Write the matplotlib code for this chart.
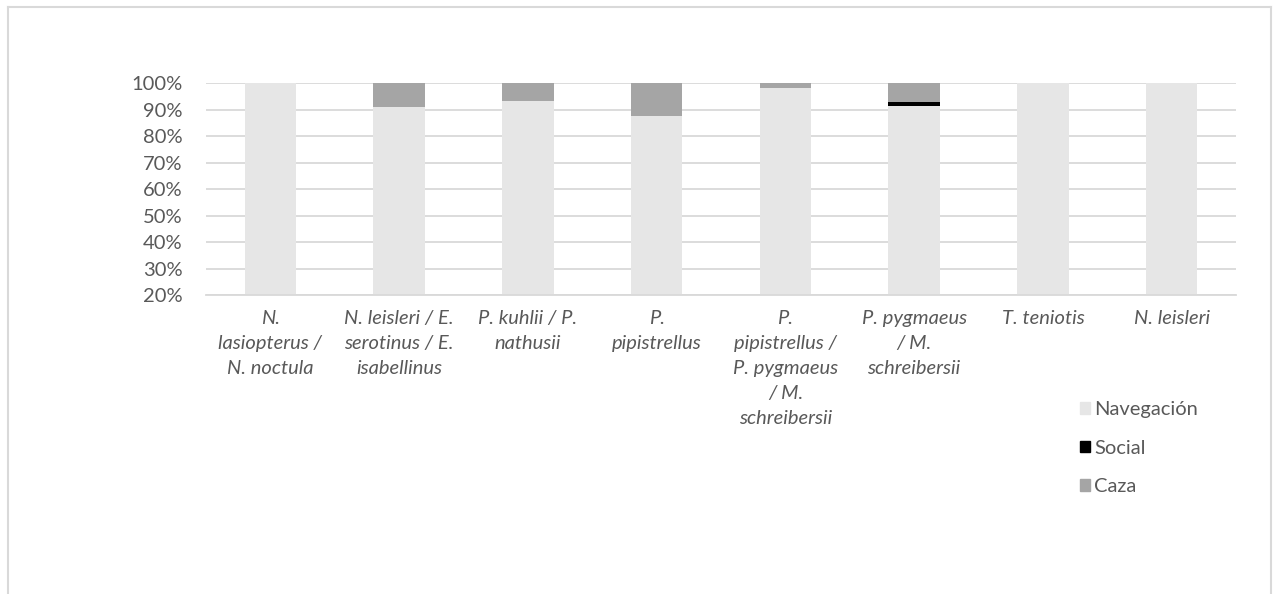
import numpy as np
import matplotlib.pyplot as plt
from matplotlib.lines import Line2D
from matplotlib.patches import Patch

plt.rcParams['font.family'] = ['Lato', 'DejaVu Sans']

categories = ['N.\nlasiopterus /\nN. noctula',
              'N. leisleri / E.\nserotinus / E.\nisabellinus',
              'P. kuhlii / P.\nnathusii',
              'P.\npipistrellus',
              'P.\npipistrellus /\nP. pygmaeus\n/ M.\nschreibersii',
              'P. pygmaeus\n/ M.\nschreibersii',
              'T. teniotis',
              'N. leisleri']
navegacion = [100.0, 91.1, 93.3, 87.7, 98.2, 91.3, 100.0, 100.0]
social = [0.0, 0.0, 0.0, 0.0, 0.0, 1.5, 0.0, 0.0]
caza = [0.0, 8.9, 6.7, 12.3, 1.8, 7.2, 0.0, 0.0]
yticks = [20, 30, 40, 50, 60, 70, 80, 90, 100]

c_nav = '#e6e6e6'
c_soc = '#000000'
c_caz = '#a5a5a5'
grey_txt = '#595959'
grid_c = '#d9d9d9'
fs = 14.5

fig = plt.figure(figsize=(12.73, 5.94), dpi=100)
ax = fig.add_axes([206/1273, 1-295/594, 1030/1273, (295-83.3)/594])

x = np.arange(len(categories))
nav = np.array(navegacion)
soc = np.array(social)
caz = np.array(caza)
w = 0.4
ax.bar(x, nav, w, color=c_nav, zorder=2)
ax.bar(x, soc, w, bottom=nav, color=c_soc, zorder=2)
ax.bar(x, caz, w, bottom=nav+soc, color=c_caz, zorder=2)

ax.set_xlim(-0.5, len(categories)-0.5)
ax.set_ylim(20, 100)
ax.set_yticks(yticks)
ax.set_yticklabels([f'{v}%' for v in yticks], color=grey_txt, fontsize=fs)
ax.set_xticks(x)
ax.set_xticklabels(categories, style='italic', color=grey_txt, fontsize=fs,
                   linespacing=1.56, va='top')
ax.tick_params(length=0, pad=17)
ax.tick_params(axis='x', pad=11)
ax.yaxis.grid(True, color=grid_c, lw=1.3, zorder=0)
ax.set_axisbelow(True)
for s in ['top', 'right', 'left']:
    ax.spines[s].set_visible(False)
ax.spines['bottom'].set_color(grid_c)
ax.spines['bottom'].set_linewidth(1.3)

handles = [Patch(color=c_nav), Patch(color=c_soc), Patch(color=c_caz)]
fig.legend(handles, ['Navegación', 'Social', 'Caza'], loc='upper left',
           bbox_to_anchor=(1062/1273, 1-383/594), frameon=False, fontsize=fs,
           handlelength=0.5, handleheight=0.5, handletextpad=0.2,
           labelspacing=1.07, labelcolor=grey_txt)

# outer chart border (open at bottom)
bx0, bx1, by1 = 7.5/1273, 1271/1273, 1-7/594
for xs, ys in [([bx0, bx1], [by1, by1]), ([bx0, bx0], [0, by1]), ([bx1, bx1], [0, by1])]:
    fig.add_artist(Line2D(xs, ys, color=grid_c, lw=1.5, transform=fig.transFigure))

fig.savefig('out.png')
